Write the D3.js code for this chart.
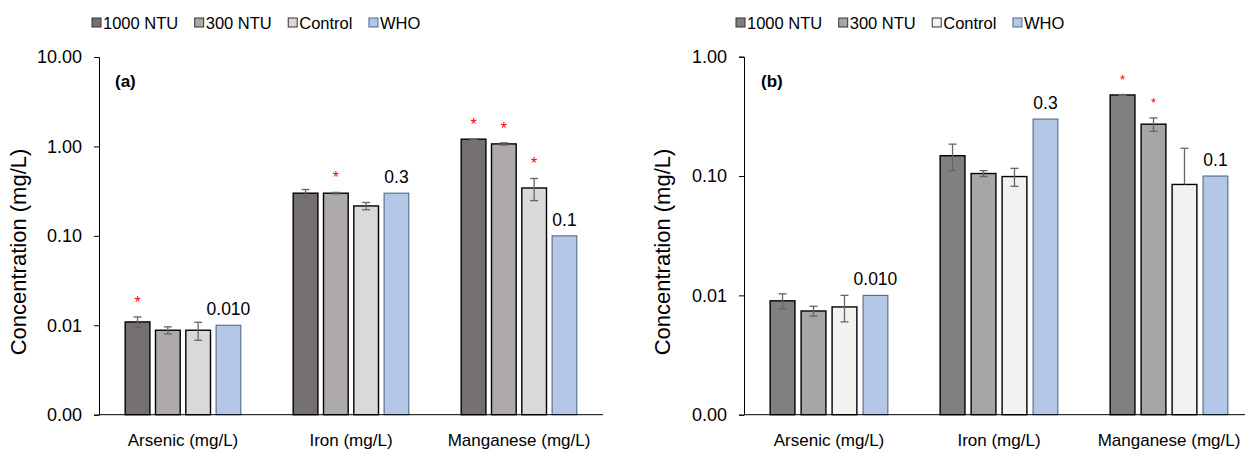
<!DOCTYPE html>
<html>
<head>
<meta charset="utf-8">
<script src="https://cdn.jsdelivr.net/npm/d3@7"></script>
<style>
  html, body { margin: 0; padding: 0; background: #fff; }
  svg { display: block; font-family: "Liberation Sans", Arial, sans-serif; }
</style>
</head>
<body>
<svg id="chart" width="1259" height="453"></svg>
<script>
// ---- data ----
const categories = ["Arsenic (mg/L)", "Iron (mg/L)", "Manganese (mg/L)"];
const seriesNames = ["1000 NTU", "300 NTU", "Control", "WHO"];

// panel (a)
const a1000 = [0.0109, 0.300, 1.205];
const a1000Err = [0.0015, 0.030, 0.012];
const a300 = [0.0088, 0.300, 1.067];
const a300Err = [0.0008, 0.006, 0.030];
const aControl = [0.0088, 0.216, 0.343];
const aControlErr = [0.0020, 0.020, 0.095];
const a1000Sig = [true, false, true];
const a300Sig = [false, true, true];
const aControlSig = [false, false, true];
const aTicks = [0.001, 0.01, 0.1, 1, 10];

// panel (b)
const b1000 = [0.0090, 0.148, 0.478];
const b1000Err = [0.0013, 0.037, 0.004];
const b300 = [0.0074, 0.105, 0.272];
const b300Err = [0.0007, 0.006, 0.035];
const bControl = [0.0080, 0.099, 0.085];
const bControlErr = [0.0020, 0.017, 0.086];
const b1000Sig = [false, false, true];
const b300Sig = [false, false, true];
const bControlSig = [false, false, false];
const bTicks = [0.001, 0.01, 0.1, 1];

// WHO guideline values and their labels (shared by both panels)
const whoLimit = [0.010, 0.3, 0.1];
const whoLabels = ["0.010", "0.3", "0.1"];

const svg = d3.select("#chart");
const fmt = d3.format(".2f");

function drawPanel(p) {
  const g = svg.append("g");
  const y = d3.scaleLog().domain(p.yDomain).range([p.bottom, p.top]);
  const x = d3.scaleBand().domain(categories).range([p.left, p.right]);
  const inner = d3.scaleBand().domain(seriesNames)
    .range([-p.groupWidth / 2, p.groupWidth / 2]).paddingInner(p.barPad);

  const series = [
    { name: seriesNames[0], vals: p.s1000, err: p.e1000, sig: p.sig1000, fill: p.colors[0], stroke: "#000" },
    { name: seriesNames[1], vals: p.s300, err: p.e300, sig: p.sig300, fill: p.colors[1], stroke: "#000" },
    { name: seriesNames[2], vals: p.sCtrl, err: p.eCtrl, sig: p.sigCtrl, fill: p.colors[2], stroke: "#000" },
    { name: seriesNames[3], vals: whoLimit, err: null, sig: null, fill: p.colors[3], stroke: "#53688a" }
  ];

  // bars
  series.forEach(s => {
    const gs = g.append("g");
    gs.selectAll("rect").data(categories).join("rect")
      .attr("x", (c) => x(c) + x.bandwidth() / 2 + inner(s.name))
      .attr("width", inner.bandwidth())
      .attr("y", (c, i) => y(s.vals[i]))
      .attr("height", (c, i) => p.bottom - y(s.vals[i]))
      .attr("fill", s.fill)
      .attr("stroke", s.stroke)
      .attr("stroke-width", s.name === "WHO" ? 1.1 : 1.4);

    if (s.err) {
      categories.forEach((c, i) => {
        const cx = x(c) + x.bandwidth() / 2 + inner(s.name) + inner.bandwidth() / 2;
        const hi = s.vals[i] + s.err[i];
        const lo = s.vals[i] - s.err[i];
        const yHi = y(hi);
        const yLo = lo > 0 ? y(lo) : y(s.vals[i]);
        const eb = gs.append("g").attr("stroke", "#666").attr("stroke-width", 1.3);
        eb.append("line").attr("x1", cx).attr("x2", cx).attr("y1", yHi).attr("y2", yLo);
        eb.append("line").attr("x1", cx - 4).attr("x2", cx + 4).attr("y1", yHi).attr("y2", yHi);
        if (lo > 0) eb.append("line").attr("x1", cx - 4).attr("x2", cx + 4).attr("y1", yLo).attr("y2", yLo);
        if (s.sig[i]) {
          g.append("text")
            .attr("x", cx).attr("y", yHi - p.starGap + p.starSize * 0.56)
            .attr("text-anchor", "middle")
            .attr("font-size", p.starSize)
            .attr("fill", "#ff0000")
            .text("*");
        }
      });
    }
  });

  // WHO value labels
  g.append("g").selectAll("text").data(categories).join("text")
    .attr("x", c => x(c) + x.bandwidth() / 2 + inner("WHO") + inner.bandwidth() / 2)
    .attr("y", (c, i) => y(whoLimit[i]) - 10)
    .attr("text-anchor", "middle")
    .attr("font-size", 17.5)
    .attr("fill", "#000")
    .text((c, i) => whoLabels[i]);

  // y axis
  const ya = g.append("g")
    .attr("transform", `translate(${p.left},0)`)
    .call(d3.axisLeft(y).tickValues(p.ticks).tickFormat(fmt).tickSize(5).tickSizeOuter(5).tickPadding(12));
  ya.selectAll("text").attr("font-size", 18).attr("fill", "#000").attr("font-family", null);
  ya.selectAll("line, path").attr("stroke", "#000");

  // x axis
  const xa = g.append("g")
    .attr("transform", `translate(0,${p.bottom})`)
    .call(d3.axisBottom(x).tickSize(0).tickPadding(19));
  xa.select(".domain").remove();
  xa.selectAll("text").attr("font-size", 17).attr("fill", "#000").attr("font-family", null);
  g.append("line")
    .attr("x1", p.left).attr("x2", p.axisEnd)
    .attr("y1", p.bottom).attr("y2", p.bottom)
    .attr("stroke", "#000").attr("stroke-width", 1);

  // y title
  g.append("text")
    .attr("transform", `translate(${p.titleX},${p.titleY}) rotate(-90)`)
    .attr("text-anchor", "middle")
    .attr("font-size", 22)
    .attr("fill", "#000")
    .text("Concentration (mg/L)");

  // panel tag
  g.append("text")
    .attr("x", p.tagX).attr("y", 86.5)
    .attr("font-size", 17).attr("font-weight", "bold")
    .text(p.tag);

  // legend
  const lg = g.append("g").attr("transform", `translate(${p.legendX},0)`);
  let cx = 0;
  series.forEach(s => {
    lg.append("rect")
      .attr("x", cx).attr("y", 18).attr("width", 9).attr("height", 9)
      .attr("fill", s.fill)
      .attr("stroke", s.name === "WHO" ? "#53688a" : "#333")
      .attr("stroke-width", 1);
    const t = lg.append("text")
      .attr("x", cx + 11).attr("y", 28.5)
      .attr("font-size", 16.5).attr("fill", "#000")
      .text(s.name);
    cx += 11 + t.node().getComputedTextLength() + 16.5;
  });
}

drawPanel({
  tag: "(a)", tagX: 115,
  yDomain: [0.001, 10], ticks: aTicks,
  top: 57, bottom: 414.7, left: 99, right: 603, axisEnd: 603,
  groupWidth: 115.6, barPad: 0.185,
  s1000: a1000, e1000: a1000Err, sig1000: a1000Sig,
  s300: a300, e300: a300Err, sig300: a300Sig,
  sCtrl: aControl, eCtrl: aControlErr, sigCtrl: aControlSig,
  colors: ["#767171", "#AEAAAA", "#D9D9D9", "#B4C7E7"],
  starGap: 18, starSize: 16,
  titleX: 26, titleY: 252, legendX: 92
});

drawPanel({
  tag: "(b)", tagX: 761,
  yDomain: [0.001, 1], ticks: bTicks,
  top: 56.7, bottom: 414.7, left: 744, right: 1254, axisEnd: 1245,
  groupWidth: 117.7, barPad: 0.2,
  s1000: b1000, e1000: b1000Err, sig1000: b1000Sig,
  s300: b300, e300: b300Err, sig300: b300Sig,
  sCtrl: bControl, eCtrl: bControlErr, sigCtrl: bControlSig,
  colors: ["#808080", "#A6A6A6", "#F2F2F2", "#B4C7E7"],
  starGap: 18, starSize: 13,
  titleX: 670, titleY: 252, legendX: 736
});
</script>
</body>
</html>
